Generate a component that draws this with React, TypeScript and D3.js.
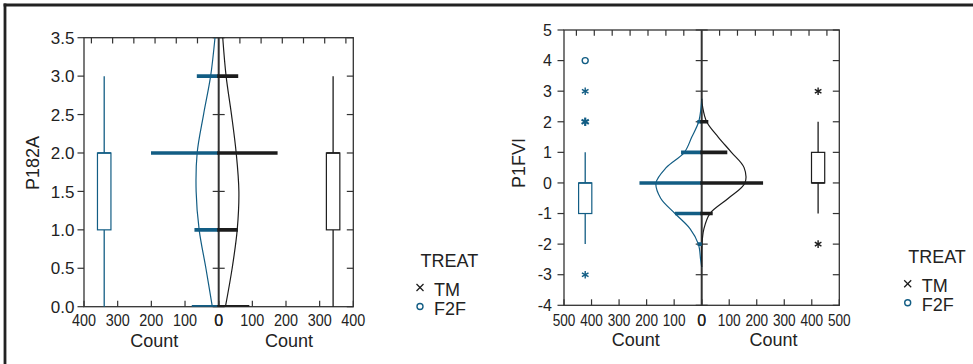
import React from "react";
import * as d3 from "d3";

// ---------- DATA ----------
// Panel 1: P182A
const P1_LEVELS = [0, 1, 2, 3];
const P1_F2F_COUNTS = [80, 72, 201, 65];
const P1_TM_COUNTS = [91, 57, 175, 58];
const P1_DENS_Y = [0, 0.5, 1, 1.5, 2, 2.5, 3, 3.5];
const P1_F2F_DENS = [19, 38, 58, 67, 64, 45, 24, 11];
const P1_TM_DENS = [20, 40, 55, 60, 52, 38, 22, 12];
const P1_Y_TICKS = [0, 0.5, 1, 1.5, 2, 2.5, 3, 3.5];
const P1_COUNT_TICKS = [0, 100, 200, 300, 400];
// box: [min, q1, median, q3, max]
const P1_F2F_BOX = [0, 1, 2, 2, 3];
const P1_TM_BOX = [0, 1, 2, 2, 3];

// Panel 2: P1FVI
const P2_LEVELS = [-2, -1, 0, 1, 2];
const P2_F2F_COUNTS = [15, 97, 226, 75, 16];
const P2_TM_COUNTS = [0, 40, 223, 93, 24];
const P2_DENS_Y = [-2.75, -2.5, -2, -1.5, -1, -0.5, 0, 0.5, 1, 1.5, 2, 2.5, 2.75];
const P2_F2F_DENS = [0, 4, 12, 42, 97, 149, 166, 129, 63, 36, 11, 2, 0];
const P2_TM_DENS = [0, 0, 1, 8, 30, 97, 157, 154, 108, 60, 18, 3, 0];
const P2_Y_TICKS = [-4, -3, -2, -1, 0, 1, 2, 3, 4, 5];
const P2_COUNT_TICKS = [0, 100, 200, 300, 400, 500];
const P2_F2F_BOX = [-2, -1, 0, 0, 1];
const P2_TM_BOX = [-1, 0, 0, 1, 2];
const P2_F2F_CIRCLES = [4];
const P2_F2F_STARS = [3, 2, -3];
const P2_F2F_STARS_BOLD = [false, true, false];
const P2_TM_CIRCLES: number[] = [];
const P2_TM_STARS = [3, -2];
const P2_TM_STARS_BOLD = [false, false];

const LEGEND_TITLE = "TREAT";
const LEGEND_ITEMS = ["TM", "F2F"];
const COUNT_LABEL = "Count";

// ---------- STYLE ----------
const BLUE = "#125d84";
const BLACK = "#1c1c1c";
const AXIS = "#333333";
const FONT = "'Liberation Sans', Arial, Helvetica, sans-serif";

type PanelCfg = {
  left: number; right: number; top: number; bottom: number; center: number;
  maxCount: number; yDomain: [number, number];
  yTicks: number[]; yFmt: (v: number) => string; yFontSize: number; yLabelRight: number;
  countTicks: number[]; xLabelLen: number;
  topStep: number;
  title: string; titleX: number; titleY: number;
  levels: number[]; f2fCounts: number[]; tmCounts: number[];
  densY: number[]; f2fDens: number[]; tmDens: number[];
  boxPos: number; boxHalf: number; f2fBox: number[]; tmBox: number[];
  f2fCircles: number[]; f2fStars: number[]; f2fBold: boolean[];
  tmCircles: number[]; tmStars: number[]; tmBold: boolean[];
  countLabelY: number; tickLabelY: number; countOffset: number;
  id: string;
};

function Star({ x, y, color, bold }: { x: number; y: number; color: string; bold?: boolean }) {
  const r = bold ? 4.2 : 3.8;
  const angles = [90, 30, 150];
  return (
    <g stroke={color} strokeWidth={bold ? 2.2 : 1.4}>
      {angles.map((a) => {
        const rad = (a * Math.PI) / 180;
        const dx = Math.cos(rad) * r, dy = Math.sin(rad) * r;
        return <line key={a} x1={x - dx} y1={y - dy} x2={x + dx} y2={y + dy} />;
      })}
    </g>
  );
}

function Panel({ c }: { c: PanelCfg }) {
  const xl = d3.scaleLinear().domain([0, c.maxCount]).range([c.center, c.left]);
  const xr = d3.scaleLinear().domain([0, c.maxCount]).range([c.center, c.right]);
  const y = d3.scaleLinear().domain(c.yDomain).range([c.bottom, c.top]);

  const lineL = d3.line<number>()
    .x((d) => xl(d))
    .y((_, i) => y(c.densY[i]))
    .curve(d3.curveCatmullRom.alpha(0.5));
  const lineR = d3.line<number>()
    .x((d) => xr(d))
    .y((_, i) => y(c.densY[i]))
    .curve(d3.curveCatmullRom.alpha(0.5));

  const topTicks: number[] = [];
  for (let k = 1; k * c.topStep <= c.maxCount; k++) topTicks.push(k * c.topStep);

  const box = (b: number[], scale: (v: number) => number, color: string) => {
    const cx = scale(c.boxPos);
    const x0 = Math.min(scale(c.boxPos - c.boxHalf), scale(c.boxPos + c.boxHalf));
    const w = Math.abs(scale(c.boxPos + c.boxHalf) - scale(c.boxPos - c.boxHalf));
    return (
      <g stroke={color} fill="none">
        <line x1={cx} x2={cx} y1={y(b[0])} y2={y(b[1])} strokeWidth={1.3} />
        <line x1={cx} x2={cx} y1={y(b[3])} y2={y(b[4])} strokeWidth={1.3} />
        <rect x={x0} width={w} y={y(b[3])} height={y(b[1]) - y(b[3])} strokeWidth={1.2} fill="#fff" />
        <line x1={x0} x2={x0 + w} y1={y(b[2])} y2={y(b[2])} strokeWidth={1.6} />
      </g>
    );
  };

  const clipId = `clip-${c.id}`;
  return (
    <g>
      <defs>
        <clipPath id={clipId}>
          <rect x={c.left} y={c.top} width={c.right - c.left} height={c.bottom - c.top} />
        </clipPath>
      </defs>
      {/* frame */}
      <rect x={c.left} y={c.top} width={c.right - c.left} height={c.bottom - c.top}
        fill="none" stroke={AXIS} strokeWidth={1.3} />
      {/* left axis ticks & labels */}
      {c.yTicks.map((t) => (
        <g key={`y${t}`}>
          <line x1={c.left - 6.5} x2={c.left} y1={y(t)} y2={y(t)} stroke={AXIS} strokeWidth={1.2} />
          <line x1={c.right - 6.5} x2={c.right} y1={y(t)} y2={y(t)} stroke={AXIS} strokeWidth={1.2} />
          <line x1={c.center - 6} x2={c.center + 6} y1={y(t)} y2={y(t)} stroke={AXIS} strokeWidth={1.2} />
          <text x={c.yLabelRight} y={y(t)} dy="0.36em" textAnchor="end" fontSize={c.yFontSize}
            fill="#222" fontFamily={FONT}>{c.yFmt(t)}</text>
        </g>
      ))}
      {/* top ticks */}
      {topTicks.map((t) => (
        <g key={`tt${t}`} stroke={AXIS} strokeWidth={1.2}>
          <line x1={xl(t)} x2={xl(t)} y1={c.top} y2={c.top + 5.7} />
          <line x1={xr(t)} x2={xr(t)} y1={c.top} y2={c.top + 5.7} />
        </g>
      ))}
      {/* bottom ticks & labels */}
      {c.countTicks.map((t) => (
        <g key={`b${t}`}>
          <line x1={xl(t)} x2={xl(t)} y1={c.bottom - 6} y2={c.bottom} stroke={AXIS} strokeWidth={1.2} />
          <line x1={xr(t)} x2={xr(t)} y1={c.bottom - 6} y2={c.bottom} stroke={AXIS} strokeWidth={1.2} />
          <text x={xl(t)} y={c.tickLabelY} textAnchor="middle" fontSize={16} fill="#222" fontFamily={FONT}
            textLength={String(t).length === 3 ? c.xLabelLen : undefined} lengthAdjust="spacingAndGlyphs">{t}</text>
          <text x={xr(t)} y={c.tickLabelY} textAnchor="middle" fontSize={16} fill="#222" fontFamily={FONT}
            textLength={String(t).length === 3 ? c.xLabelLen : undefined} lengthAdjust="spacingAndGlyphs">{t}</text>
        </g>
      ))}
      <text x={(c.left + c.center) / 2 + c.countOffset} y={c.countLabelY} textAnchor="middle" fontSize={18}
        fill="#222" fontFamily={FONT}>{COUNT_LABEL}</text>
      <text x={(c.right + c.center) / 2 + c.countOffset} y={c.countLabelY} textAnchor="middle" fontSize={18}
        fill="#222" fontFamily={FONT}>{COUNT_LABEL}</text>
      {/* y title */}
      <text transform={`translate(${c.titleX},${c.titleY}) rotate(-90)`} textAnchor="middle" fontSize={18}
        fill="#222" fontFamily={FONT}>{c.title}</text>

      {/* center line */}
      <line x1={c.center} x2={c.center} y1={c.top} y2={c.bottom} stroke={AXIS} strokeWidth={2} />

      <g clipPath={`url(#${clipId})`}>
        {/* density curves */}
        <path d={lineL(c.f2fDens) || ""} fill="none" stroke={BLUE} strokeWidth={1.2} />
        <path d={lineR(c.tmDens) || ""} fill="none" stroke={BLACK} strokeWidth={1.2} />
        {/* histogram bars */}
        {c.levels.map((lv, i) => (
          c.f2fCounts[i] > 0 ? <line key={`f${lv}`} x1={xl(0)} x2={xl(c.f2fCounts[i])} y1={y(lv)} y2={y(lv)}
            stroke={BLUE} strokeWidth={3.6} /> : null
        ))}
        {c.levels.map((lv, i) => (
          c.tmCounts[i] > 0 ? <line key={`t${lv}`} x1={xr(0) - 1.5} x2={xr(c.tmCounts[i])} y1={y(lv)} y2={y(lv)}
            stroke={BLACK} strokeWidth={3.6} /> : null
        ))}
      </g>

      {/* boxplots */}
      {box(c.f2fBox, xl, BLUE)}
      {box(c.tmBox, xr, BLACK)}
      {c.f2fCircles.map((v) => (
        <circle key={`fc${v}`} cx={xl(c.boxPos)} cy={y(v)} r={3} fill="#fff" stroke={BLUE} strokeWidth={1.4} />
      ))}
      {c.f2fStars.map((v, i) => (
        <Star key={`fs${v}`} x={xl(c.boxPos)} y={y(v)} color={BLUE} bold={c.f2fBold[i]} />
      ))}
      {c.tmCircles.map((v) => (
        <circle key={`tc${v}`} cx={xr(c.boxPos)} cy={y(v)} r={3} fill="#fff" stroke={BLACK} strokeWidth={1.4} />
      ))}
      {c.tmStars.map((v, i) => (
        <Star key={`ts${v}`} x={xr(c.boxPos)} y={y(v)} color={BLACK} bold={c.tmBold[i]} />
      ))}
    </g>
  );
}

function Legend({ x, y }: { x: number; y: number }) {
  // x: marker center, y: title baseline
  return (
    <g fontFamily={FONT} fill="#222">
      <text x={x + 0.5} y={y} fontSize={18}>{LEGEND_TITLE}</text>
      <g stroke={BLACK} strokeWidth={1.3}>
        <line x1={x - 3.5} x2={x + 3.5} y1={y + 20.5 - 3.5} y2={y + 20.5 + 3.5} />
        <line x1={x - 3.5} x2={x + 3.5} y1={y + 20.5 + 3.5} y2={y + 20.5 - 3.5} />
      </g>
      <text x={x + 14} y={y + 28.5} fontSize={18}>{LEGEND_ITEMS[0]}</text>
      <circle cx={x} cy={y + 39.5} r={3} fill="#fff" stroke={BLUE} strokeWidth={1.4} />
      <text x={x + 14} y={y + 48} fontSize={18}>{LEGEND_ITEMS[1]}</text>
    </g>
  );
}

const panel1: PanelCfg = {
  id: "p1", left: 84, right: 353.3, top: 37.7, bottom: 306.7, center: 218.7,
  maxCount: 400, yDomain: [0, 3.5], yTicks: P1_Y_TICKS, yFmt: (v) => v.toFixed(1), yFontSize: 17,
  yLabelRight: 74.5, countTicks: P1_COUNT_TICKS, xLabelLen: 24, topStep: 63,
  title: "P182A", titleX: 38.5, titleY: 163,
  levels: P1_LEVELS, f2fCounts: P1_F2F_COUNTS, tmCounts: P1_TM_COUNTS,
  densY: P1_DENS_Y, f2fDens: P1_F2F_DENS, tmDens: P1_TM_DENS,
  boxPos: 340, boxHalf: 20, f2fBox: P1_F2F_BOX, tmBox: P1_TM_BOX,
  f2fCircles: [], f2fStars: [], f2fBold: [], tmCircles: [], tmStars: [], tmBold: [],
  countLabelY: 347.3, tickLabelY: 325.7, countOffset: 3,
};

const panel2: PanelCfg = {
  id: "p2", left: 564, right: 839.3, top: 30, bottom: 305.3, center: 701.7,
  maxCount: 500, yDomain: [-4, 5], yTicks: P2_Y_TICKS, yFmt: (v) => String(v), yFontSize: 16,
  yLabelRight: 552, countTicks: P2_COUNT_TICKS, xLabelLen: 22.7, topStep: 65,
  title: "P1FVI", titleX: 525, titleY: 163,
  levels: P2_LEVELS, f2fCounts: P2_F2F_COUNTS, tmCounts: P2_TM_COUNTS,
  densY: P2_DENS_Y, f2fDens: P2_F2F_DENS, tmDens: P2_TM_DENS,
  boxPos: 423, boxHalf: 24, f2fBox: P2_F2F_BOX, tmBox: P2_TM_BOX,
  f2fCircles: P2_F2F_CIRCLES, f2fStars: P2_F2F_STARS, f2fBold: P2_F2F_STARS_BOLD,
  tmCircles: P2_TM_CIRCLES, tmStars: P2_TM_STARS, tmBold: P2_TM_STARS_BOLD,
  countLabelY: 345.7, tickLabelY: 325.7, countOffset: 3,
};

export default function App() {
  return (
    <svg width={973} height={364} viewBox="0 0 973 364"
      style={{ position: "absolute", left: 0, top: 0, background: "#fff" }}>
      <rect x={0} y={0} width={973} height={364} fill="#fff" />
      {/* outer frame */}
      <line x1={3.6} x2={973} y1={5} y2={5} stroke="#222" strokeWidth={2.8} />
      <line x1={5} x2={5} y1={3.6} y2={364} stroke="#222" strokeWidth={2.8} />
      <Panel c={panel1} />
      <Panel c={panel2} />
      <Legend x={420} y={267} />
      <Legend x={907.7} y={263.3} />
    </svg>
  );
}
